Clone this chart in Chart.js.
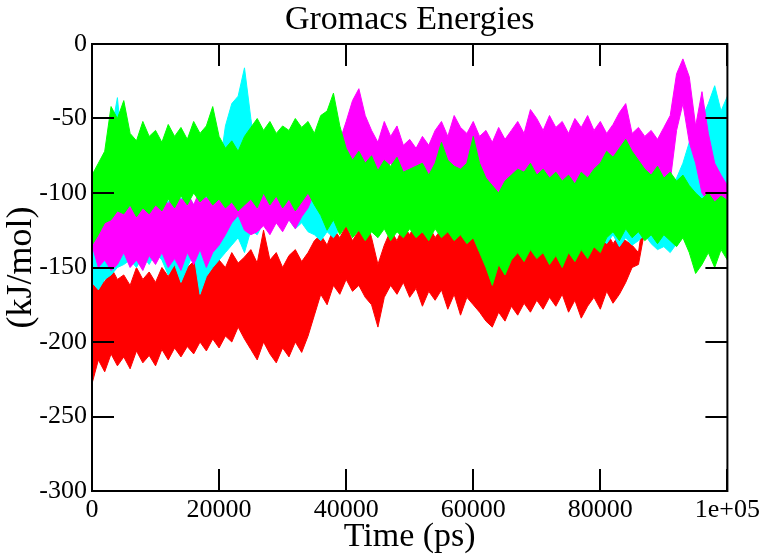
<!doctype html>
<html lang="en">
  <head>
    <meta charset="utf-8">
    <style>
      * { margin: 0; padding: 0; }
      body { background: white; }
    </style>
  </head>
  <body>
    <canvas id="myChart" width="764" height="557"></canvas>

    <script src="https://cdn.jsdelivr.net/npm/chart.js/dist/chart.umd.min.js"></script>
    <script>
// time axis (ps), one sample every 1000 ps
const timePs = [0,1000,2000,3000,4000,5000,6000,7000,8000,9000,
  10000,11000,12000,13000,14000,15000,16000,17000,18000,19000,
  20000,21000,22000,23000,24000,25000,26000,27000,28000,29000,
  30000,31000,32000,33000,34000,35000,36000,37000,38000,39000,
  40000,41000,42000,43000,44000,45000,46000,47000,48000,49000,
  50000,51000,52000,53000,54000,55000,56000,57000,58000,59000,
  60000,61000,62000,63000,64000,65000,66000,67000,68000,69000,
  70000,71000,72000,73000,74000,75000,76000,77000,78000,79000,
  80000,81000,82000,83000,84000,85000,86000,87000,88000,89000,
  90000,91000,92000,93000,94000,95000,96000,97000,98000,99000,100000];

// upper / lower edge of each noisy trace (kJ/mol)
const redHigh = [-165,-152,-160,-150,-158,-155,-162,-150,-158,-153,
  -160,-150,-156,-148,-155,-150,-146,-152,-142,-148,
  -145,-150,-140,-147,-143,-138,-147,-125,-145,-140,
  -150,-142,-138,-146,-140,-132,-128,-135,-124,-130,
  -122,-132,-125,-116,-130,-148,-135,-125,-132,-122,
  -128,-120,-127,-122,-130,-124,-118,-128,-122,-130,
  -126,-135,-142,-138,-145,-136,-140,-132,-138,-130,
  -135,-128,-136,-130,-138,-126,-133,-125,-132,-124,
  -130,-126,-134,-128,-132,-135,-140,-110,-100,-115,
  -105,-95,-108,-85,-100,-112,-90,-105,-98,-110,-102];
const redLow = [-228,-212,-220,-208,-216,-210,-218,-206,-214,-209,
  -216,-205,-212,-204,-210,-203,-208,-200,-206,-198,
  -204,-196,-200,-190,-198,-205,-212,-200,-208,-214,
  -204,-210,-200,-207,-196,-182,-168,-175,-162,-168,
  -158,-166,-162,-170,-175,-190,-170,-162,-168,-160,
  -170,-164,-176,-166,-172,-165,-178,-168,-182,-170,
  -175,-180,-186,-190,-180,-186,-176,-182,-174,-180,
  -172,-178,-170,-176,-168,-180,-172,-184,-176,-170,
  -178,-166,-174,-168,-160,-150,-148,-125,-120,-130,
  -118,-112,-125,-100,-115,-128,-108,-120,-115,-125,-118];

const magentaHigh = [-95,-112,-115,-108,-112,-104,-110,-100,-108,-98,
  -106,-100,-108,-96,-105,-100,-108,-98,-104,-96,
  -90,-78,-86,-72,-88,-96,-100,-98,-96,-100,
  -95,-100,-96,-98,-94,-80,-62,-70,-56,-65,
  -52,-38,-30,-48,-58,-66,-52,-62,-55,-68,
  -64,-70,-62,-68,-58,-52,-62,-48,-56,-60,
  -52,-62,-58,-66,-56,-64,-58,-52,-60,-44,
  -50,-58,-48,-56,-52,-60,-50,-56,-48,-58,
  -52,-60,-54,-46,-40,-60,-56,-62,-58,-64,
  -56,-48,-20,-10,-22,-55,-32,-60,-80,-88,-95];
const magentaLow = [-135,-150,-145,-152,-148,-140,-150,-145,-152,-142,
  -148,-140,-150,-144,-152,-140,-148,-138,-150,-140,
  -135,-128,-120,-115,-125,-128,-126,-122,-128,-120,
  -126,-118,-124,-116,-110,-100,-92,-88,-85,-92,
  -88,-82,-80,-86,-90,-92,-85,-80,-88,-92,
  -95,-90,-96,-92,-98,-94,-90,-96,-92,-98,
  -95,-100,-104,-98,-102,-96,-100,-94,-98,-92,
  -100,-94,-98,-92,-100,-95,-98,-90,-96,-92,
  -100,-94,-98,-92,-96,-90,-95,-88,-94,-90,
  -96,-92,-58,-40,-66,-80,-100,-106,-110,-104,-108];

const cyanHigh = [-132,-140,-100,-60,-36,-80,-100,-96,-102,-98,
  -104,-100,-106,-98,-104,-100,-108,-102,-95,-90,
  -85,-55,-40,-35,-16,-50,-80,-95,-98,-95,
  -100,-96,-102,-98,-100,-96,-98,-92,-96,-90,
  -95,-90,-96,-80,-76,-85,-92,-90,-94,-88,
  -90,-88,-92,-90,-94,-92,-90,-96,-94,-92,
  -96,-94,-95,-92,-94,-90,-96,-92,-94,-90,
  -96,-98,-94,-100,-96,-94,-98,-96,-100,-98,
  -102,-100,-104,-100,-98,-102,-100,-104,-100,-102,
  -100,-98,-90,-80,-66,-72,-50,-40,-28,-45,-35];
const cyanLow = [-160,-165,-158,-155,-150,-148,-145,-150,-142,-148,
  -140,-145,-155,-148,-160,-150,-140,-168,-156,-150,
  -145,-140,-135,-130,-140,-125,-128,-120,-124,-120,
  -122,-118,-124,-120,-126,-128,-132,-126,-130,-124,
  -120,-124,-118,-122,-118,-124,-120,-124,-120,-122,
  -118,-124,-120,-126,-122,-125,-120,-124,-120,-122,
  -118,-122,-125,-120,-118,-124,-120,-126,-122,-124,
  -120,-124,-126,-122,-128,-124,-126,-122,-128,-124,
  -130,-134,-128,-136,-130,-135,-132,-128,-134,-138,
  -136,-140,-134,-125,-110,-115,-118,-112,-108,-115,-110];

const greenHigh = [-88,-80,-72,-42,-50,-38,-60,-65,-52,-62,
  -58,-66,-54,-62,-56,-64,-52,-60,-55,-42,
  -62,-70,-65,-72,-62,-56,-50,-58,-52,-60,
  -55,-58,-50,-56,-52,-60,-48,-45,-33,-55,
  -70,-78,-72,-80,-75,-85,-78,-82,-76,-86,
  -84,-82,-80,-88,-80,-66,-78,-82,-84,-80,
  -62,-80,-90,-95,-100,-92,-88,-84,-86,-80,
  -88,-84,-90,-86,-92,-88,-94,-86,-90,-84,
  -80,-72,-76,-70,-64,-72,-78,-84,-88,-82,
  -90,-86,-92,-88,-95,-100,-104,-100,-106,-102,-105];
const greenLow = [-135,-128,-120,-118,-112,-114,-108,-116,-110,-114,
  -108,-112,-104,-110,-102,-108,-100,-106,-102,-108,
  -104,-110,-106,-112,-108,-104,-110,-100,-108,-102,
  -110,-104,-112,-106,-100,-108,-115,-125,-118,-128,
  -122,-130,-125,-132,-126,-130,-124,-132,-126,-130,
  -124,-130,-126,-132,-124,-130,-126,-132,-128,-134,
  -130,-140,-150,-162,-148,-155,-145,-140,-146,-138,
  -144,-140,-148,-142,-150,-140,-146,-138,-144,-136,
  -140,-130,-126,-132,-124,-130,-126,-132,-128,-134,
  -128,-132,-136,-130,-140,-154,-148,-140,-150,-138,-145];

const serif = '"Liberation Serif", "DejaVu Serif", serif';

// one trace = upper edge filled down to lower edge
function band(name, high, low, color) {
  return [
    { label: name, data: timePs.map((t, i) => ({ x: t, y: high[i] })),
      borderColor: color, backgroundColor: color, fill: '+1' },
    { label: name + ' low', data: timePs.map((t, i) => ({ x: t, y: low[i] })),
      borderColor: color, backgroundColor: color, fill: false }
  ];
}

// chart.js draws the first dataset on top: green, magenta, cyan, red
const datasets = [
  ...band('green', greenHigh, greenLow, '#00ff00'),
  ...band('magenta', magentaHigh, magentaLow, '#ff00ff'),
  ...band('cyan', cyanHigh, cyanLow, '#00ffff'),
  ...band('red', redHigh, redLow, '#ff0000')
];

// frame, inward ticks on all four sides, title
const frame = {
  id: 'frame',
  afterDatasetsDraw(chart) {
    const { ctx, chartArea: { top, bottom, left, right }, scales: { x, y } } = chart;
    ctx.save();
    ctx.strokeStyle = '#000';
    ctx.lineWidth = 2;
    ctx.strokeRect(left, top, right - left, bottom - top);
    ctx.beginPath();
    x.ticks.forEach(t => {
      const px = Math.round(x.getPixelForValue(t.value));
      ctx.moveTo(px, bottom); ctx.lineTo(px, bottom - 22);
      ctx.moveTo(px, top); ctx.lineTo(px, top + 22);
    });
    y.ticks.forEach(t => {
      const py = Math.round(y.getPixelForValue(t.value));
      ctx.moveTo(left, py); ctx.lineTo(left + 22, py);
      ctx.moveTo(right, py); ctx.lineTo(right - 22, py);
    });
    ctx.stroke();

    ctx.fillStyle = '#000';
    ctx.font = '34px ' + serif;
    ctx.textAlign = 'center';
    ctx.textBaseline = 'alphabetic';
    ctx.fillText('Gromacs Energies', (left + right) / 2, 29);
    ctx.restore();
  }
};

const config = {
  type: 'line',
  data: { datasets },
  options: {
    responsive: false,
    animation: false,
    layout: { padding: { top: 44, right: 36, left: 0, bottom: 0 } },
    elements: {
      point: { radius: 0 },
      line: { tension: 0, borderWidth: 1 }
    },
    scales: {
      x: {
        type: 'linear',
        min: 0,
        max: 100000,
        grid: { display: false, drawTicks: false },
        border: { display: false },
        ticks: {
          stepSize: 20000,
          autoSkip: false,
          maxRotation: 0,
          padding: 4,
          color: '#000',
          font: { family: serif, size: 26 },
          callback: v => v === 100000 ? '1e+05' : String(v)
        },
        title: {
          display: true,
          text: 'Time (ps)',
          color: '#000',
          font: { family: serif, size: 34 },
          padding: 0
        },
        afterFit: s => { s.height = 66; }
      },
      y: {
        min: -300,
        max: 0,
        grid: { display: false, drawTicks: false },
        border: { display: false },
        ticks: {
          stepSize: 50,
          padding: 5,
          color: '#000',
          font: { family: serif, size: 26 }
        },
        title: {
          display: true,
          text: '(kJ/mol)',
          color: '#000',
          font: { family: serif, size: 36 },
          padding: 0
        },
        afterFit: s => { s.width = 92; }
      }
    },
    plugins: {
      legend: { display: false },
      tooltip: { enabled: false }
    }
  },
  plugins: [frame]
};

const myChart = new Chart(document.getElementById('myChart'), config);
    </script>
  </body>
</html>
